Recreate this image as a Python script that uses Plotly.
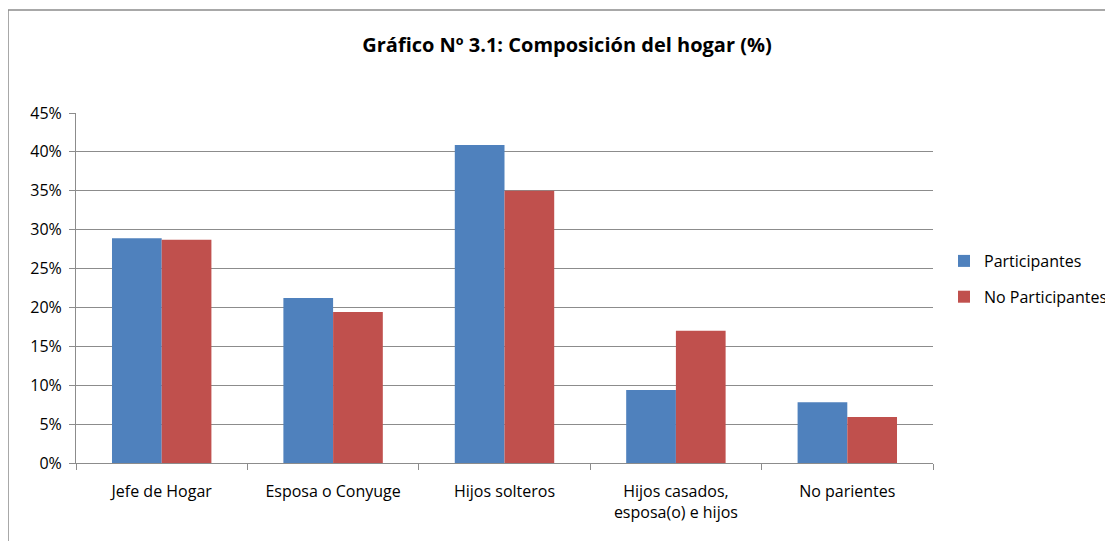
import plotly.graph_objects as go

categories = ["Jefe de Hogar", "Esposa o Conyuge", "Hijos solteros",
              "Hijos casados,<br>esposa(o) e hijos", "No parientes"]
participantes = [0.289, 0.212, 0.409, 0.094, 0.078]
no_participantes = [0.287, 0.194, 0.350, 0.170, 0.059]
series_names = ["Participantes", "No Participantes"]
y_ticks = [0, 0.05, 0.10, 0.15, 0.20, 0.25, 0.30, 0.35, 0.40, 0.45]

# page body has an 8px margin; work in reference coordinates minus that offset
OFF = 8
W, H = 1113 - OFF, 541 - OFF
L, R, T, B = 76 - OFF, 933 - OFF, 113 - OFF, 463 - OFF

font_family = "'Open Sans', sans-serif"

fig = go.Figure()
fig.add_trace(go.Bar(x=categories, y=participantes, name=series_names[0],
                     legendgroup="a",
                     marker=dict(color="#4F81BD", line=dict(width=0))))
fig.add_trace(go.Bar(x=categories, y=no_participantes, name=series_names[1],
                     legendgroup="b",
                     marker=dict(color="#C0504D", line=dict(width=0))))

pw, ph = R - L, B - T
fig.add_shape(type="rect", xref="paper", yref="paper",
              x0=(8 - OFF - L) / pw, x1=(1300 - L) / pw,
              y0=(B - 800) / ph, y1=(B - (10 - OFF)) / ph,
              line=dict(color="#8c8c8c", width=1.5), layer="below")

fig.update_layout(
    width=W, height=H,
    margin=dict(l=L, r=W - R, t=T, b=H - B, pad=0, autoexpand=False),
    paper_bgcolor="white", plot_bgcolor="white",
    barmode="group", bargap=0.42, bargroupgap=0,
    title=dict(text="<b>Gráfico Nº 3.1: Composición del hogar (%)</b>",
               x=(567 - OFF) / W, xref="container", xanchor="center",
               y=1 - (45 - OFF) / H, yref="container", yanchor="middle",
               font=dict(family=font_family, size=20, color="black")),
    font=dict(family=font_family, size=16, color="black"),
    legend=dict(x=(944 - OFF) / W, xref="container", xanchor="left",
                y=1 - (279 - OFF) / H, yref="container", yanchor="middle",
                font=dict(size=16), itemwidth=30, traceorder="grouped",
                tracegroupgap=12, bgcolor="rgba(0,0,0,0)"),
    showlegend=True,
)
fig.update_xaxes(type="category", tickson="boundaries", ticks="outside", ticklen=6,
                 tickcolor="#8c8c8c", showline=True, linecolor="#8c8c8c", linewidth=1,
                 showgrid=False, tickfont=dict(size=16), automargin=False,
                 ticklabelstandoff=14)
fig.update_yaxes(range=[0, 0.45], tickvals=y_ticks, tickformat=".0%",
                 ticks="outside", ticklen=6, tickcolor="#8c8c8c",
                 showline=True, linecolor="#8c8c8c", linewidth=1,
                 showgrid=True, gridcolor="#8c8c8c", gridwidth=1, zeroline=False,
                 tickfont=dict(size=16), automargin=False, ticklabelstandoff=4)

fig.write_html("out.html")
